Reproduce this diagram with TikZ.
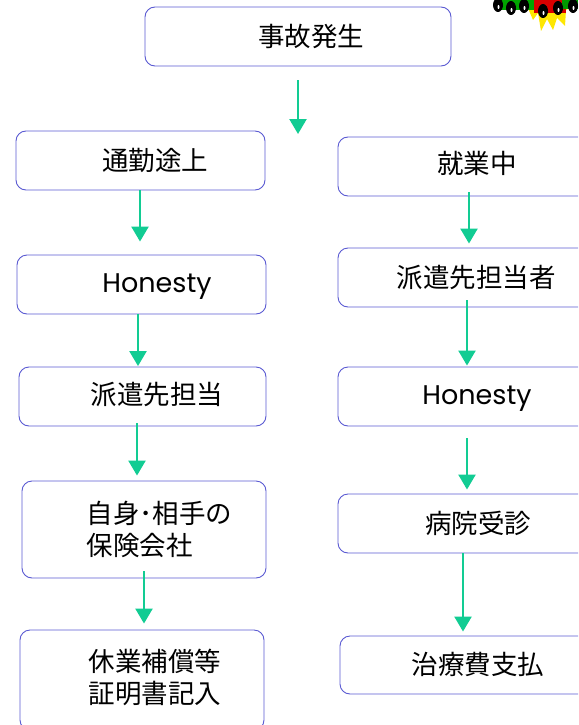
\documentclass[tikz,border=0pt]{standalone}
\usepackage{fontspec}
\newfontfamily\jpfont{Noto Sans CJK JP}
\newfontfamily\latinfont{Poppins}
\usetikzlibrary{arrows.meta}
\definecolor{boxline}{HTML}{5A5AD2}
\definecolor{flow}{HTML}{12CC93}
\tikzset{
  x=1pt, y=-1pt,
  stepbox/.style={draw=boxline, line width=0.9pt, rounded corners=10pt, fill=white},
  jp/.style={font=\jpfont\fontsize{26.5}{32}\selectfont, text=black},
  en/.style={font=\latinfont\fontsize{27}{30}\selectfont, text=black},
  arr/.style={draw=flow, line width=2.4pt, -{Triangle[width=17pt,length=15pt]}},
}
\begin{document}
\begin{tikzpicture}
\useasboundingbox (0,0) rectangle (578,725);
\clip (0,0) rectangle (578,725);

% corner illustration (partly outside the frame)
\fill[yellow!90!orange] (527,6) -- (533,20) -- (538,13) -- (541,31) -- (547,19) -- (553,30) -- (557,18) -- (565,26) -- (566,10) -- (574,6) -- cycle;
\fill[green!65!black] (498,0) rectangle (538,10);
\fill[red!85!black] (534,0) rectangle (566,13);
\fill[green!60!black] (562,0) rectangle (578,9);
\foreach \cx/\cy in {498/5,511/8,524/6,543/11,558/8,573/6}{
  \fill[black] (\cx,\cy) ellipse (5pt and 7pt);
  \fill[white] (\cx+0.5,\cy+2) ellipse (1pt and 2pt);
}

% boxes
\node[stepbox, minimum width=306pt, minimum height=59pt] (accident) at (298,36.5) {};
\node[jp] at (311,36) {事故発生};
\coordinate (split) at (298,134);

\node[stepbox, minimum width=249pt, minimum height=59pt] (commute) at (140.5,160.5) {};
\node[jp] at (155,160) {通勤途上};
\node[stepbox, minimum width=249pt, minimum height=59pt] (honL) at (141.5,284.5) {};
\node[en] at (157,286.5) {Honesty};
\node[stepbox, minimum width=247pt, minimum height=59pt] (dispL) at (142.5,396.5) {};
\node[jp] at (157,394) {派遣先担当};
\node[stepbox, minimum width=244pt, minimum height=97pt] (insur) at (144,529.5) {};
\node[jp, align=left, anchor=west] at (83,529) {自身･相手の\\保険会社};
\node[stepbox, minimum width=244pt, minimum height=100pt] (leave) at (142,680) {};
\node[jp, align=left, anchor=west] at (85,677) {休業補償等\\証明書記入};

\node[stepbox, minimum width=280pt, minimum height=59pt] (work) at (478,166.5) {};
\node[jp] at (477,163) {就業中};
\node[stepbox, minimum width=280pt, minimum height=59pt] (dispR) at (478,277.5) {};
\node[jp] at (476,277) {派遣先担当者};
\node[stepbox, minimum width=280pt, minimum height=59pt] (honR) at (478,396.5) {};
\node[en] at (477,398.5) {Honesty};
\node[stepbox, minimum width=280pt, minimum height=59pt] (hosp) at (478,523.5) {};
\node[jp] at (478,523) {病院受診};
\node[stepbox, minimum width=278pt, minimum height=58pt] (pay) at (479,665) {};
\node[jp] at (478,664) {治療費支払};

% x positions of the vertical connectors
\coordinate (c1) at (140,0);
\coordinate (c2) at (138,0);
\coordinate (c3) at (137,0);
\coordinate (c4) at (144,0);
\coordinate (c5) at (469,0);
\coordinate (c6) at (467,0);
\coordinate (c7) at (463,0);

% connectors
\draw[arr, shorten <=14pt] (accident.south) -- (split);
\draw[arr, shorten >=13pt] (commute.south -| c1) -- (honL.north -| c1);
\draw[arr, shorten >=0.5pt] (honL.south -| c2) -- (dispL.north -| c2);
\draw[arr, shorten <=-3pt, shorten >=5pt] (dispL.south -| c3) -- (insur.north -| c3);
\draw[arr, shorten <=-7pt, shorten >=6pt] (insur.south -| c4) -- (leave.north -| c4);

\draw[arr, shorten <=-4pt, shorten >=4pt] (work.south -| c5) -- (dispR.north -| c5);
\draw[arr, shorten <=-7pt, shorten >=1pt] (dispR.south -| c6) -- (honR.north -| c6);
\draw[arr, shorten <=12pt, shorten >=4pt] (honR.south -| c6) -- (hosp.north -| c6);
\draw[arr, shorten >=4pt] (hosp.south -| c7) -- (pay.north -| c7);
\end{tikzpicture}
\end{document}
